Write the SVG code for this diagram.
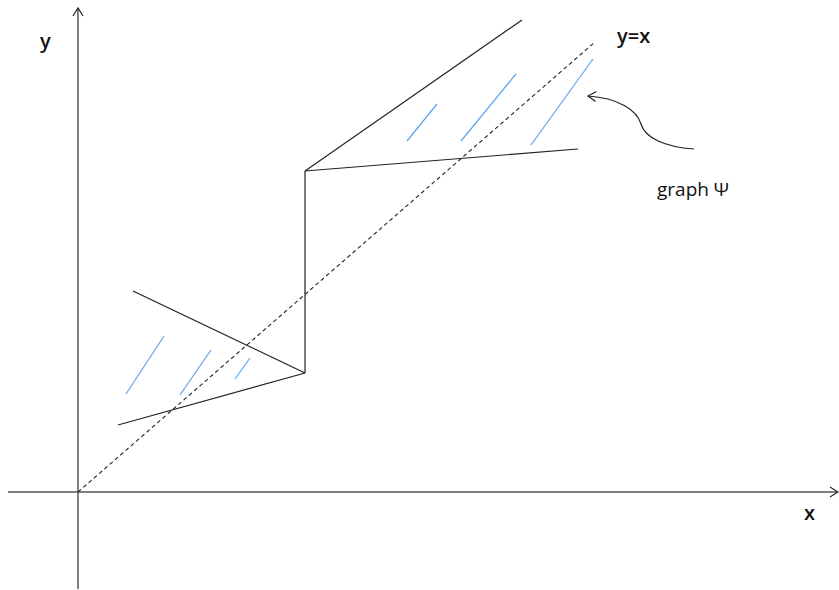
<svg xmlns="http://www.w3.org/2000/svg" width="839" height="590" viewBox="0 0 839 590">
<style>
.ax{stroke:#555;stroke-width:1.5;fill:none}
.ln{stroke:#222;stroke-width:1.2;fill:none}
.hatch{stroke:#5aa6ee;stroke-width:1.2;fill:none}
.dash{stroke:#222;stroke-width:1.1;stroke-dasharray:4,3;fill:none}
.t{font-family:"Open Sans","Liberation Sans",sans-serif;fill:#111}
</style>
<defs>
<marker id="open" markerWidth="12" markerHeight="12" refX="10" refY="6" orient="auto" markerUnits="userSpaceOnUse">
<path d="M2,1 L10,6 L2,11" fill="none" stroke="#222" stroke-width="1.2"/>
</marker>
</defs>
<rect width="839" height="590" fill="#fff"/>
<g id="connectors">
<line id="y-axis" class="ax" x1="78" y1="589" x2="78" y2="8" marker-end="url(#open)"/>
<line id="x-axis" class="ax" x1="8" y1="492" x2="838" y2="492" marker-end="url(#open)"/>
<line id="diag" class="dash" x1="78" y1="492" x2="595" y2="42"/>
<line class="ln" x1="305" y1="171" x2="522" y2="20"/>
<line class="ln" x1="305" y1="171" x2="578" y2="149"/>
<line class="ln" x1="305" y1="171" x2="305" y2="373"/>
<line class="ln" x1="133" y1="291" x2="305" y2="373"/>
<line class="ln" x1="118" y1="425" x2="305" y2="373"/>
<path class="ln" d="M694,149 C665,147 645,138 641,124 C637,110 618,98 588,96" marker-end="url(#open)"/>
</g>
<g id="hatches">
<line class="hatch" x1="126" y1="394" x2="164" y2="336"/>
<line class="hatch" x1="180" y1="395" x2="211" y2="350"/>
<line class="hatch" x1="235" y1="379" x2="250" y2="358"/>
<line class="hatch" x1="407" y1="141" x2="437" y2="104"/>
<line class="hatch" x1="461" y1="141" x2="516" y2="74"/>
<line class="hatch" x1="531" y1="145" x2="593" y2="59"/>
</g>
<g id="labels">
<text class="t" x="40" y="48" font-size="20" font-weight="600">y</text>
<text class="t" x="804" y="520" font-size="20" font-weight="600">x</text>
<text class="t" x="617" y="43" font-size="20" font-weight="600">y=x</text>
<text class="t" x="657" y="196" font-size="19" font-weight="500">graph Ψ</text>
</g>
</svg>
